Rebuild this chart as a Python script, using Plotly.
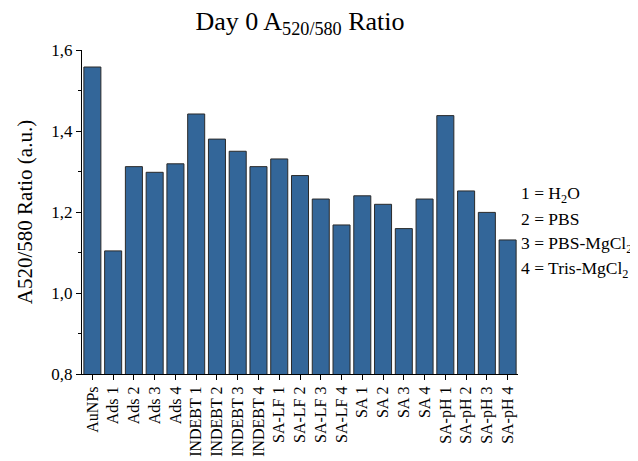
import plotly.graph_objects as go

categories = ["AuNPs", "Ads 1", "Ads 2", "Ads 3", "Ads 4",
              "INDEBT 1", "INDEBT 2", "INDEBT 3", "INDEBT 4",
              "SA-LF 1", "SA-LF 2", "SA-LF 3", "SA-LF 4",
              "SA 1", "SA 2", "SA 3", "SA 4",
              "SA-pH 1", "SA-pH 2", "SA-pH 3", "SA-pH 4"]
values = [1.558, 1.104, 1.312, 1.298, 1.319,
          1.442, 1.380, 1.350, 1.312,
          1.331, 1.290, 1.232, 1.168,
          1.240, 1.219, 1.159, 1.232,
          1.438, 1.252, 1.199, 1.131]
legend_lines = ["1 = H<sub>2</sub>O", "2 = PBS",
                "3 = PBS-MgCl<sub>2</sub>", "4 = Tris-MgCl<sub>2</sub>"]
y_ticks = [0.8, 1.0, 1.2, 1.4, 1.6]

FONT = "Liberation Serif"

fig = go.Figure(go.Bar(
    x=categories, y=values,
    marker=dict(color="#336699", line=dict(color="#2a2a2a", width=1)),
))

fig.update_layout(
    width=638, height=461,
    paper_bgcolor="white", plot_bgcolor="white",
    margin=dict(l=74, r=128, t=42, b=89),
    separators=", ",
    bargap=0.18,
    showlegend=False,
    font=dict(family=FONT, color="black", size=15),
    title=dict(text="Day 0 A<sub>520/580</sub> Ratio", x=0.5, xref="paper",
               xanchor="center", y=0.972, yanchor="middle",
               font=dict(family=FONT, size=26, color="black")),
)

fig.update_xaxes(
    showline=True, linecolor="black", linewidth=1.2,
    ticks="outside", ticklen=5, tickwidth=1, tickcolor="black",
    tickangle=-90, tickfont=dict(family=FONT, size=16),
    showgrid=False, zeroline=False,
)
fig.update_yaxes(
    range=[0.8, 1.6], tickvals=y_ticks, tickformat=".1f",
    showline=True, linecolor="black", linewidth=1.2,
    ticks="outside", ticklen=5, tickwidth=1, tickcolor="black",
    minor=dict(dtick=0.1, ticks="outside", ticklen=3, tickcolor="black"),
    tickfont=dict(family=FONT, size=17),
    showgrid=False, zeroline=False,
    title=dict(text="A520/580 Ratio (a.u.)", font=dict(family=FONT, size=21), standoff=12),
)

for i, txt in enumerate(legend_lines):
    fig.add_annotation(
        text=txt, xref="paper", yref="paper",
        x=1.005, y=0.555 - i * 0.077, xanchor="left", yanchor="middle",
        showarrow=False, align="left", borderpad=0,
        font=dict(family=FONT, size=17.5, color="black"),
    )

fig.write_html("out.html")
